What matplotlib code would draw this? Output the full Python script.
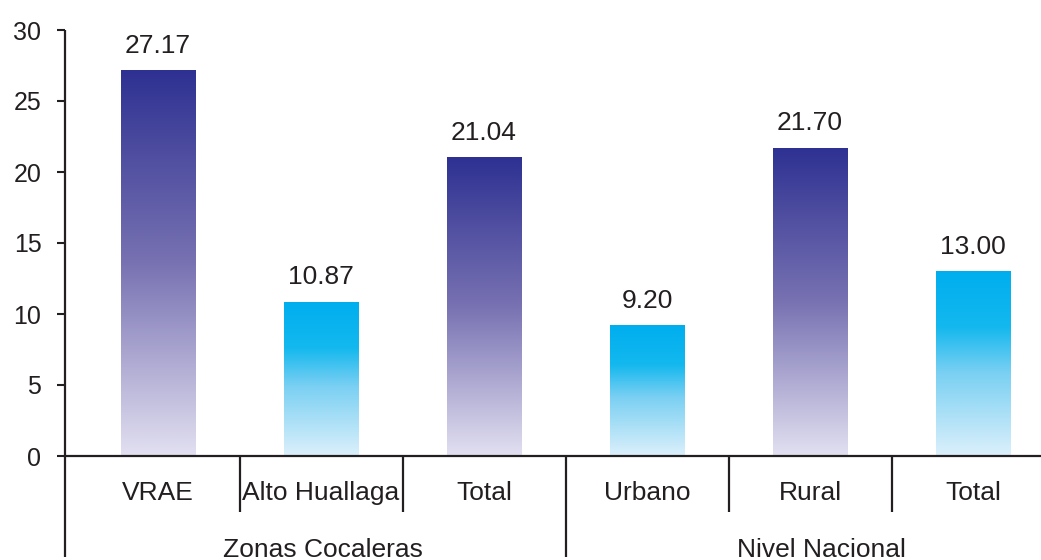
import numpy as np
import matplotlib.pyplot as plt
from matplotlib.colors import LinearSegmentedColormap
from matplotlib.transforms import blended_transform_factory

plt.rcParams['font.family'] = ['Liberation Sans', 'DejaVu Sans']

categories = ['VRAE', 'Alto Huallaga', 'Total', 'Urbano', 'Rural', 'Total']
values = [27.17, 10.87, 21.04, 9.20, 21.70, 13.00]
labels = ['27.17', '10.87', '21.04', '9.20', '21.70', '13.00']
bar_style = ['dark', 'cyan', 'dark', 'cyan', 'dark', 'cyan']
groups = ['Zonas Cocaleras', 'Nivel Nacional']
y_ticks = [0, 5, 10, 15, 20, 25, 30]

ink = '#231F20'

# vertical gradients, bottom -> top
cmaps = {
    'dark': LinearSegmentedColormap.from_list(
        'dark', [(0, '#E2E0F1'), (0.5, '#7872B2'), (1, '#2E3192')]),
    'cyan': LinearSegmentedColormap.from_list(
        'cyan', [(0, '#DCF0FB'), (0.45, '#7AD0F3'), (0.7, '#13B8EE'), (1, '#00AEEF')]),
}

fig = plt.figure(figsize=(10.41, 5.6), dpi=100)
ax = fig.add_axes([65 / 1041, 104 / 560, (1041 - 65) / 1041, 426 / 560])

x = np.arange(len(categories))
width = 0.46
bars = ax.bar(x, values, width, color='none', edgecolor='none')

grad = np.linspace(0, 1, 256).reshape(-1, 1)
for b, style in zip(bars, bar_style):
    x0 = b.get_x()
    im = ax.imshow(grad, cmap=cmaps[style], origin='lower', aspect='auto',
                   extent=[x0, x0 + b.get_width(), 0, b.get_height()], zorder=2)
    im.set_clip_path(b)

for xi, v, lab in zip(x, values, labels):
    ax.annotate(lab, (xi, v), xytext=(0, 9), textcoords='offset points',
                ha='center', va='bottom', fontsize=19, color=ink)

ax.set_xlim(-0.571, 5.417)
ax.set_ylim(0, 30)
ax.set_yticks(y_ticks)
ax.tick_params(axis='y', direction='out', length=6, width=1.5, color=ink,
               labelsize=18, labelcolor=ink, pad=11)
ax.set_xticks([])

for s in ['top', 'right']:
    ax.spines[s].set_visible(False)
ax.spines['bottom'].set_color(ink)
ax.spines['bottom'].set_linewidth(1.6)
ax.spines['left'].set_visible(False)

trans = blended_transform_factory(ax.transData, ax.transAxes)
bottom_long = -0.237
bottom_short = -0.131

# y axis continues down past the category rows
ax.plot([-0.571, -0.571], [1.0, bottom_long], transform=trans, color=ink,
        lw=1.6, clip_on=False, solid_capstyle='butt')

# separators between categories; the group boundary is longer
for i in range(len(categories) - 1):
    sx = i + 0.5
    end = bottom_long if sx == 2.5 else bottom_short
    ax.plot([sx, sx], [0, end], transform=trans, color=ink, lw=1.6,
            clip_on=False, solid_capstyle='butt')

for xi, cat in zip(x, categories):
    ax.text(xi, -0.103, cat, transform=trans, ha='center', va='baseline',
            fontsize=19, color=ink)

# group captions, centred under each group's middle column
for gx, g in zip([1.01, 4.07], groups):
    ax.text(gx, -0.237, g, transform=trans, ha='center', va='baseline',
            fontsize=19, color=ink)

fig.savefig('out.png', dpi=100)
